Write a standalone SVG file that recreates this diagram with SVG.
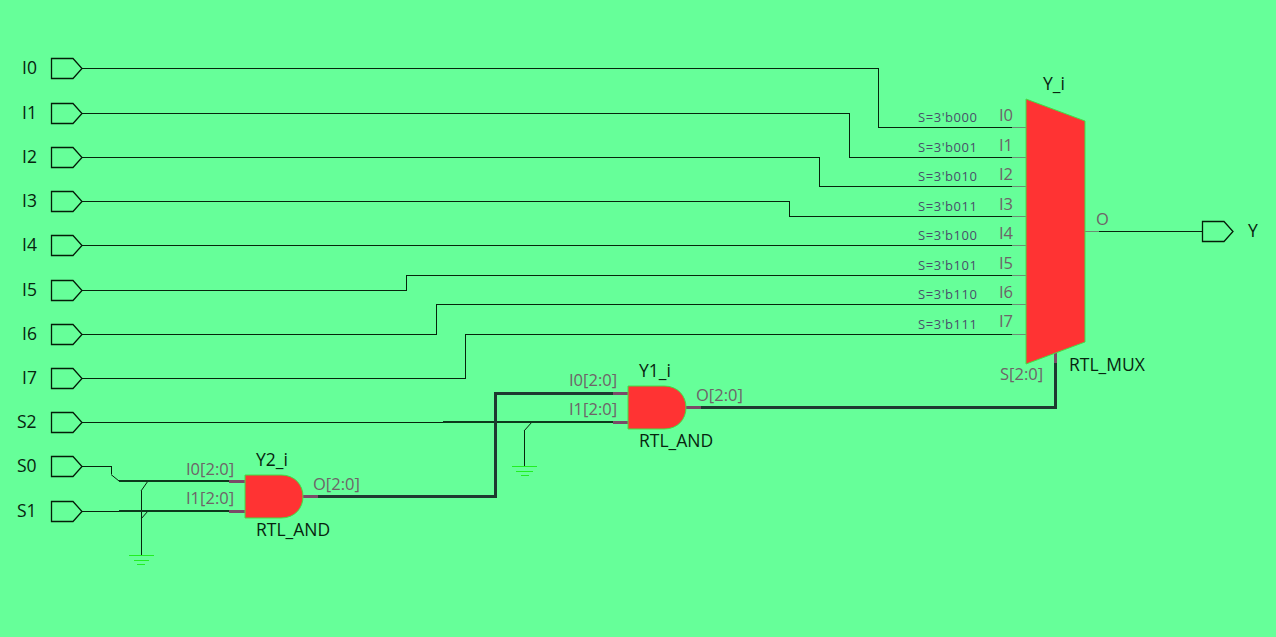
<svg xmlns="http://www.w3.org/2000/svg" width="1276" height="637" viewBox="0 0 1276 637">
<style>
text{font-family:"Open Sans","Noto Sans","Liberation Sans",sans-serif}
.n{font-size:17.5px;fill:#06240f}
.p{font-size:16.5px;fill:#6e6468}
.s{font-size:13px;fill:#48506a;letter-spacing:.55px}
.w{fill:none;stroke:#06240c;stroke-width:1;shape-rendering:crispEdges}
.d{fill:none;stroke:#06240c;stroke-width:1}
.h{fill:none;stroke:#0c3a1c;stroke-width:2;shape-rendering:crispEdges}
.b{fill:none;stroke:#1e3a30;stroke-width:3;shape-rendering:crispEdges}
.st{fill:none;stroke:#7b4a68;stroke-width:3;shape-rendering:crispEdges}
.gs{fill:none;stroke:#6c8f74;stroke-width:1;shape-rendering:crispEdges}
.g{fill:none;stroke:#22ee22;stroke-width:1;shape-rendering:crispEdges}
.port{fill:none;stroke:#041c08;stroke-width:1.3}
.cell{fill:#ff3333;stroke:#44dd44;stroke-width:1}
</style>
<defs><path id="pt" class="port" d="M.5-9.500H22L31 .5L22 10.500H.5Z"/></defs>
<rect width="1276" height="637" fill="#66ff99"/>
<g id="connectors">
<path class="w" d="M82 68H878V127.500H1012M82 113H849V157H1012M82 157H819.500V186H1012M82 201H789V216H1012M82 245H1012M82 290H406V275H1012M82 334H436V304H1012M82 378H465V334H1012"/>
<path class="w" d="M1099 231H1202M82 422H443M82 466H111V474M82 511H119M524 466V431M141 555V491"/>
<path class="d" d="M111 474.500L119 481M524 431L532 422M141 491L148 481M141 519L148 511"/>
<path class="h" d="M443 422H613M119 481H229M119 511H229"/>
<path class="g" d="M512 466H537M516 471H533M521 475H529M129 555H154M134 560H149M137 564H145"/>
<path class="b" d="M318 496H495V393H613M701 407H1055.500V363"/>
<path class="st" d="M229 481H245M229 511H245M303 496H318M613 393H628M613 422H628M686 407H701M1055.500 353V363"/>
<path class="gs" d="M1012 127.500H1026M1012 157H1026M1012 186H1026M1012 216H1026M1012 245H1026M1012 275H1026M1012 304H1026M1012 334H1026M1085 231H1099"/>
</g>
<g id="I0"><use href="#pt" x="51" y="68"/><text class="n" x="22" y="74">I0</text></g>
<g id="I1"><use href="#pt" x="51" y="113"/><text class="n" x="22" y="119">I1</text></g>
<g id="I2"><use href="#pt" x="51" y="157"/><text class="n" x="22" y="163">I2</text></g>
<g id="I3"><use href="#pt" x="51" y="201"/><text class="n" x="22" y="207">I3</text></g>
<g id="I4"><use href="#pt" x="51" y="245"/><text class="n" x="22" y="251">I4</text></g>
<g id="I5"><use href="#pt" x="51" y="290"/><text class="n" x="22" y="296">I5</text></g>
<g id="I6"><use href="#pt" x="51" y="334"/><text class="n" x="22" y="340">I6</text></g>
<g id="I7"><use href="#pt" x="51" y="378"/><text class="n" x="22" y="384">I7</text></g>
<g id="S2"><use href="#pt" x="51" y="422"/><text class="n" x="17" y="428">S2</text></g>
<g id="S0"><use href="#pt" x="51" y="466"/><text class="n" x="17" y="472">S0</text></g>
<g id="S1"><use href="#pt" x="51" y="511"/><text class="n" x="17" y="517">S1</text></g>
<g id="Y"><use href="#pt" x="1202" y="231"/><text class="n" x="1248" y="237">Y</text></g>
<g id="Y2_i">
<path class="cell" d="M245 475H281C295 475 303 485 303 496.500C303 508 295 518 281 518H245Z"/>
<text class="n" x="256" y="466">Y2_i</text><text class="n" x="256" y="536">RTL_AND</text>
<text class="p" x="186" y="475">I0[2:0]</text><text class="p" x="186" y="504">I1[2:0]</text><text class="p" x="313" y="490">O[2:0]</text>
</g>
<g id="Y1_i">
<path class="cell" d="M628 386H664C678 386 686 396 686 407.500C686 419 678 429 664 429H628Z"/>
<text class="n" x="639" y="377">Y1_i</text><text class="n" x="639" y="447">RTL_AND</text>
<text class="p" x="569" y="386">I0[2:0]</text><text class="p" x="569" y="415">I1[2:0]</text><text class="p" x="696" y="401">O[2:0]</text>
</g>
<g id="Y_i">
<path class="cell" d="M1026 99L1085 121V342L1026 364Z"/>
<text class="n" x="1043" y="90">Y_i</text><text class="n" x="1069" y="371">RTL_MUX</text>
<text class="p" x="999" y="121">I0</text><text class="p" x="999" y="151">I1</text><text class="p" x="999" y="180">I2</text><text class="p" x="999" y="210">I3</text><text class="p" x="999" y="239">I4</text><text class="p" x="999" y="269">I5</text><text class="p" x="999" y="298">I6</text><text class="p" x="999" y="327">I7</text>
<text class="p" x="1096" y="225">O</text><text class="p" x="1000" y="380">S[2:0]</text>
<text class="s" x="918" y="122">S=3'b000</text><text class="s" x="918" y="152">S=3'b001</text><text class="s" x="918" y="181">S=3'b010</text><text class="s" x="918" y="211">S=3'b011</text><text class="s" x="918" y="240">S=3'b100</text><text class="s" x="918" y="270">S=3'b101</text><text class="s" x="918" y="299">S=3'b110</text><text class="s" x="918" y="329">S=3'b111</text>
</g>
</svg>
